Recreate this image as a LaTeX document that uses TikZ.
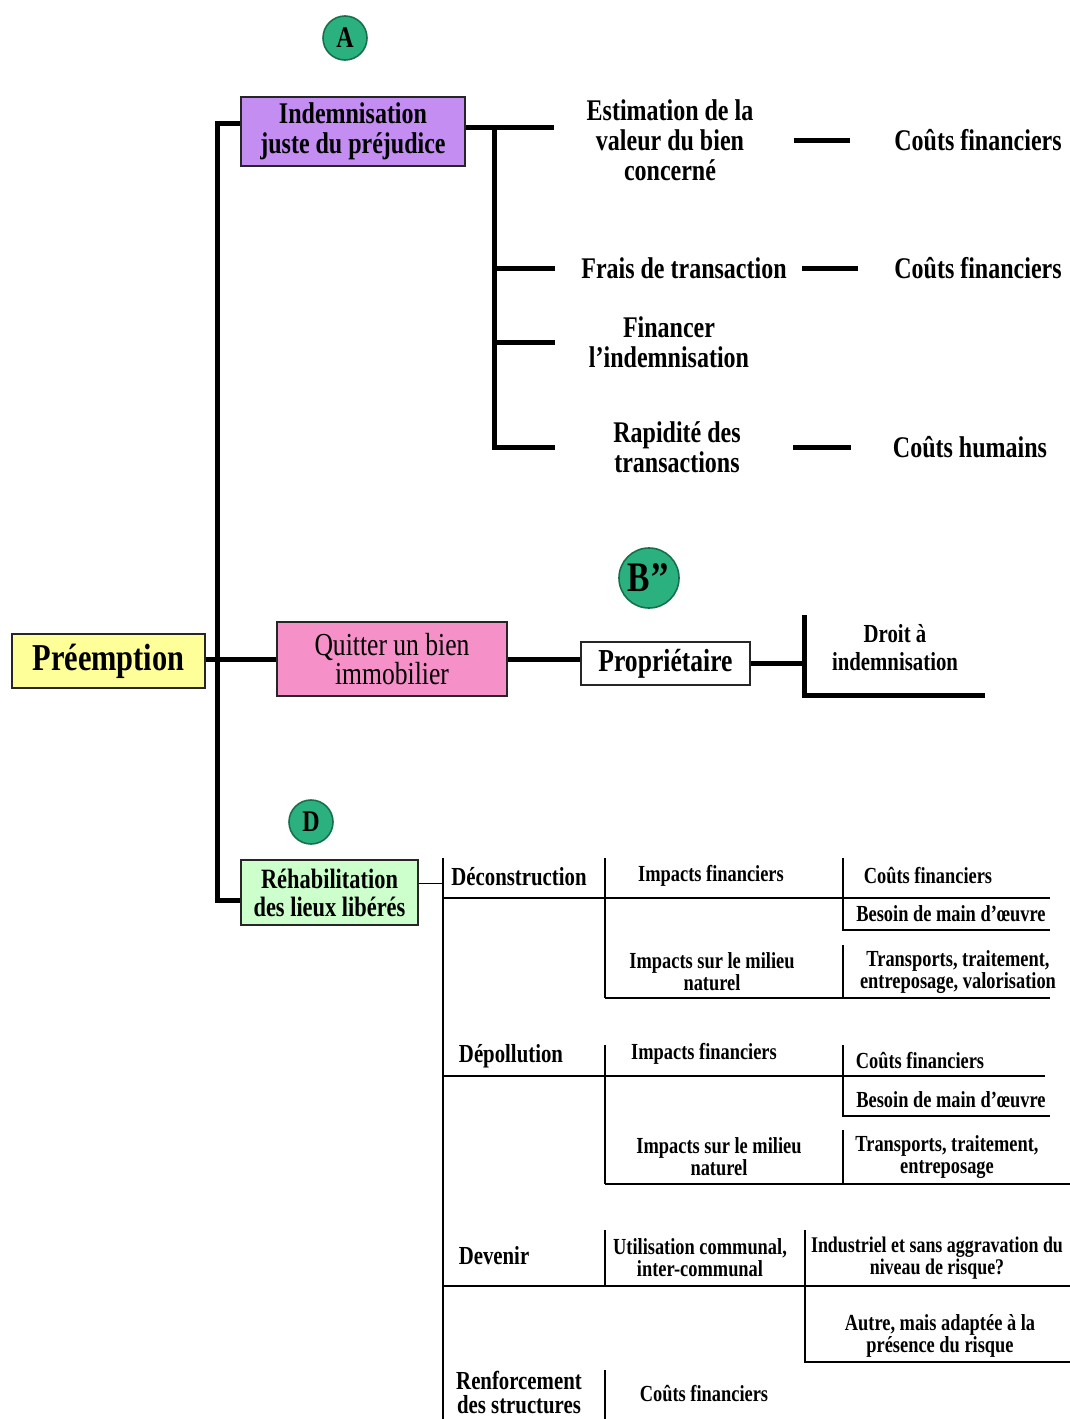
\documentclass[tikz,border=0pt]{standalone}
\usepackage{fontspec}
\setmainfont{Liberation Serif}[FakeStretch=0.8]
\usepackage{tikz}

\definecolor{preemptyellow}{HTML}{FFFF99}
\definecolor{indempurple}{HTML}{C38DF2}
\definecolor{quitpink}{HTML}{F590C8}
\definecolor{rehabgreen}{HTML}{CCFFCC}
\definecolor{tagteal}{HTML}{2BB17F}
\definecolor{tagedge}{HTML}{17704C}

\newcommand{\fsTop}{\fontsize{15}{15}\selectfont}
\newcommand{\fsHead}{\fontsize{13}{12}\selectfont}
\newcommand{\fsTab}{\fontsize{11.5}{11}\selectfont}

\begin{document}
\begin{tikzpicture}[
  x=0.5pt, y=-0.5pt,
  box/.style={draw=black!85, line width=0.8pt, align=center, inner sep=2pt, font=\bfseries\fsTop},
  tag/.style={circle, draw=tagedge, fill=tagteal, line width=0.8pt, inner sep=0pt, font=\bfseries\fsTop},
  txt/.style={align=center, inner sep=0pt, font=\bfseries\fsTop},
  head/.style={align=center, inner sep=0pt, font=\bfseries\fsHead},
  cell/.style={align=center, inner sep=0pt, font=\bfseries\fsTab},
  trunk/.style={line width=2.5pt},
  rule/.style={line width=0.75pt}
]
\path[fill=white, use as bounding box] (0,0) rectangle (1070,1419);

% branche A
\node[tag, minimum size=22pt] (tagA) at (345,38) {A};
\node[box, fill=indempurple, minimum width=112pt, minimum height=34.5pt] (indem) at (353,131.5) {Indemnisation\\juste du préjudice};
\node[txt] (estim) at (670,140) {Estimation de la\\valeur du bien\\concerné};
\node[txt] (frais) at (684,268) {Frais de transaction};
\node[txt] (financ) at (669,342) {Financer\\l’indemnisation};
\node[txt] (rapid) at (677,447) {Rapidité des\\transactions};
\node[txt] (cout1) at (978,140) {Coûts financiers};
\node[txt] (cout2) at (978,268) {Coûts financiers};
\node[txt] (humain) at (970,447) {Coûts humains};
\coordinate (forkA) at (494,127);

% branche B''
\node[box, fill=preemptyellow, minimum width=96.5pt, minimum height=27pt, font=\bfseries\fontsize{19}{19}\selectfont] (preempt) at (108.5,661) {Préemption};
\node[box, fill=quitpink, minimum width=115pt, minimum height=37pt, font=\mdseries\fontsize{16}{14.5}\selectfont] (quit) at (392,659) {Quitter un bien\\immobilier};
\node[tag, minimum size=30pt, font=\bfseries\fontsize{21}{21}\selectfont] (tagB) at (649,578) {B’’};
\node[box, fill=white, minimum width=84.5pt, minimum height=21.5pt, font=\bfseries\fontsize{16}{16}\selectfont] (prop) at (665.5,663.5) {Propriétaire};
\node[txt, font=\bfseries\fontsize{13}{14}\selectfont] (droit) at (895,648) {Droit à\\indemnisation};
\coordinate (brk) at (804,615);
\coordinate (brkend) at (985,695);

% branche D
\node[tag, minimum size=22pt] (tagD) at (311,822) {D};
\node[box, fill=rehabgreen, minimum width=88.5pt, minimum height=32.5pt, font=\bfseries\fontsize{14}{14}\selectfont] (rehab) at (329.5,892.5) {Réhabilitation\\des lieux libérés};
\coordinate (spine) at (217,659);
\coordinate (spineT) at (443,858);

\node[head] (decon) at (519,877) {Déconstruction};
\node[cell] (decfin) at (711,876) {Impacts financiers};
\node[cell] (deccout) at (928,876) {Coûts financiers};
\node[cell] (decmain) at (951,914) {Besoin de main d’œuvre};
\node[cell] (decmil) at (712,972) {Impacts sur le milieu\\naturel};
\node[cell] (dectrans) at (958,972) {Transports, traitement,\\entreposage, valorisation};

\node[head] (depol) at (511,1056) {Dépollution};
\node[cell] (depfin) at (704,1054) {Impacts financiers};
\node[cell] (depcout) at (920,1061) {Coûts financiers};
\node[cell] (depmain) at (951,1100) {Besoin de main d'œuvre};
\node[cell] (depmil) at (719,1157) {Impacts sur le milieu\\naturel};
\node[cell] (deptrans) at (947,1157) {Transports, traitement,\\entreposage};

\node[head] (devenir) at (494,1256) {Devenir};
\node[cell] (devutil) at (700,1258) {Utilisation communal,\\inter-communal};
\node[cell, font=\bfseries\fontsize{11.2}{11}\selectfont] (devind) at (937,1258) {Industriel et sans aggravation du\\niveau de risque?};
\node[cell] (devautre) at (940,1336) {Autre, mais adaptée à la\\présence du risque};

\node[head] (renfo) at (519,1392) {Renforcement\\des structures};
\node[cell] (renfcout) at (704,1394) {Coûts financiers};

% traits
\draw[trunk] ([yshift=4pt]indem.west) -| (spine) |- ([yshift=-4pt]rehab.west);
\draw[trunk] (quit.west -| preempt.east) -- (quit.west);
\draw[trunk] (quit.east) -- (quit.east -| prop.west);
\draw[trunk] (prop.east) -- (prop.east -| brk);
\draw[trunk] (brk) |- (brkend);

\draw[trunk, shorten >=16pt] ([yshift=2pt]indem.east) -- ([yshift=2pt]indem.east -| estim.west);
\draw[trunk, shorten >=29pt] (forkA) |- (rapid.west);
\draw[trunk, shorten >=13pt] (forkA |- frais.west) -- (frais.west);
\draw[trunk, shorten >=17pt] (forkA |- financ.west) -- (financ.west);
\draw[trunk, shorten <=20pt, shorten >=21.75pt] (estim.east) -- (cout1.west);
\draw[trunk, shorten <=7.5pt, shorten >=18pt] (frais.east) -- (cout2.west);
\draw[trunk, shorten <=26pt, shorten >=21pt] (rapid.east) -- (humain.west);

\draw[rule] ([yshift=4.5pt]rehab.east) -- ([yshift=4.5pt]rehab.east -| spineT);
\draw[rule] (spineT) -- (443,1419);
% Deconstruction
\draw[rule] (605,858) -- (605,998);
\draw[rule] (443,898) -- (1050,898);
\draw[rule] (843,858) -- (843,930) -- (1050,930);
\draw[rule] (843,945) -- (843,998);
\draw[rule] (605,998) -- (1050,998);
% Depollution
\draw[rule] (605,1045) -- (605,1184);
\draw[rule] (443,1076) -- (1045,1076);
\draw[rule] (843,1045) -- (843,1116) -- (1050,1116);
\draw[rule] (843,1130) -- (843,1184);
\draw[rule] (605,1184) -- (1070,1184);
% Devenir
\draw[rule] (605,1230) -- (605,1286);
\draw[rule] (805,1230) -- (805,1362) -- (1070,1362);
\draw[rule] (443,1286) -- (1070,1286);
% Renforcement
\draw[rule] (605,1370) -- (605,1419);
\end{tikzpicture}
\end{document}
